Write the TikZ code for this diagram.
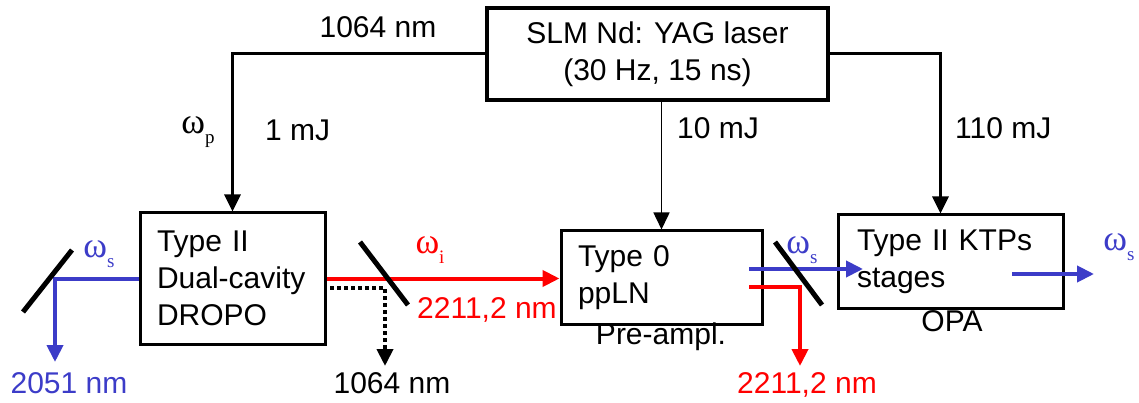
\documentclass[tikz,border=0pt]{standalone}
\usepackage{fontspec}
\setmainfont{Liberation Sans}
\newfontfamily\grk{Liberation Serif}
\usetikzlibrary{arrows.meta}
\definecolor{bl}{RGB}{60,60,200}
\definecolor{rd}{RGB}{255,0,0}
\newcommand\omg[1]{{\fontsize{36}{36}\selectfont\grk ω}\raisebox{-0.35em}{\fontsize{19}{19}\selectfont\grk #1}}
\begin{document}
\begin{tikzpicture}[x=1pt,y=-1pt,font=\fontsize{30}{37}\selectfont,
  box/.style={draw, line width=3pt, inner sep=0pt, align=left},
  beam/.style={line width=3pt},
  cbeam/.style={line width=4pt},
  mirror/.style={line width=5pt},
  lbl/.style={inner sep=0pt},
  >={Triangle[length=17pt,width=16pt]}]
\useasboundingbox (0,0) rectangle (1139,403);
% boxes
\node[box, line width=4pt, minimum width=341pt, minimum height=92pt, align=center] (laser) at (657.5,54) {SLM Nd: YAG laser\\(30 Hz, 15 ns)};
\node[box, minimum width=185pt, minimum height=131pt, text width=151pt, inner xsep=17pt] (b1) at (232.5,278.5) {Type II\\Dual-cavity\\DROPO};
\node[box, minimum width=201pt, minimum height=93pt, text width=167pt, inner xsep=17pt] (b2) at (661.5,277.5) {Type 0\\ppLN};
\node[box, minimum width=225pt, minimum height=93pt, text width=187pt, inner xsep=19pt] (b3) at (950.5,261.5) {Type II KTPs\\stages};
% pump lines
\draw[beam,->] (laser.west) -| (b1.north);
\draw[beam,->] (laser.east) -| ([xshift=-10pt]b3.north);
\draw[line width=1.5pt,->] (b2.north |- laser.south) -- (b2.north);
% labels top
\node[lbl] (l1064) at (378,27) {1064 nm};
\node[lbl] (lwp) at (198,132) {\omg{p}};
\node[lbl,anchor=west] (l1mj) at (265,130) {1 mJ};
\node[lbl,anchor=west] (l10mj) at (677,128) {10 mJ};
\node[lbl,anchor=west] (l110mj) at (955,128) {110 mJ};
% left signal output
\coordinate (m1) at (55,278.5);
\coordinate (e1) at (55,362);
\draw[cbeam,bl,->] (b1.west) -- (m1) -- (e1);
\draw[mirror] (23,312) -- (72,250);
\node[lbl,text=bl] (ws1) at (99,254) {\omg{s}};
\node[lbl,text=bl] (l2051) at (69,383) {2051 nm};
% idler to preamp
\draw[cbeam,rd,->] (b1.east) -- (b1.east -| b2.west);
\coordinate (d0) at (330,288);
\coordinate (d1) at (385,288);
\coordinate (d2) at (385,366);
\draw[line width=4pt,dash pattern=on 4pt off 3pt,->] (d0) -- (d1) -- (d2);
\draw[mirror] (360,242) -- (408,305);
\node[lbl] (l1064b) at (392,383) {1064 nm};
\node[lbl,text=rd] (wi) at (430,250) {\omg{i}};
\node[lbl,text=rd,anchor=west] (l2211a) at (417,310) {2211,2 nm};
\node[lbl] (lpre) at (661,337) {Pre-ampl.};
% preamp outputs
\coordinate (s2a) at (749,269);
\coordinate (s2b) at (863,269);
\draw[cbeam,bl,->] (s2a) -- (s2b);
\coordinate (r2a) at (749,287);
\coordinate (r2b) at (800,287);
\coordinate (r2c) at (800,366);
\draw[cbeam,rd,->] (r2a) -- (r2b) -- (r2c);
\draw[mirror] (775,242) -- (822,305);
\node[lbl,text=bl] (ws2) at (802,250) {\omg{s}};
\node[lbl,text=rd] (l2211b) at (807,385) {2211,2 nm};
\node[lbl] (lopa) at (952,321) {OPA};
% OPA output
\coordinate (s3a) at (1012,274);
\coordinate (s3b) at (1094,274);
\draw[cbeam,bl,->] (s3a) -- (s3b);
\node[lbl,text=bl] (ws3) at (1119,247) {\omg{s}};
\end{tikzpicture}
\end{document}
